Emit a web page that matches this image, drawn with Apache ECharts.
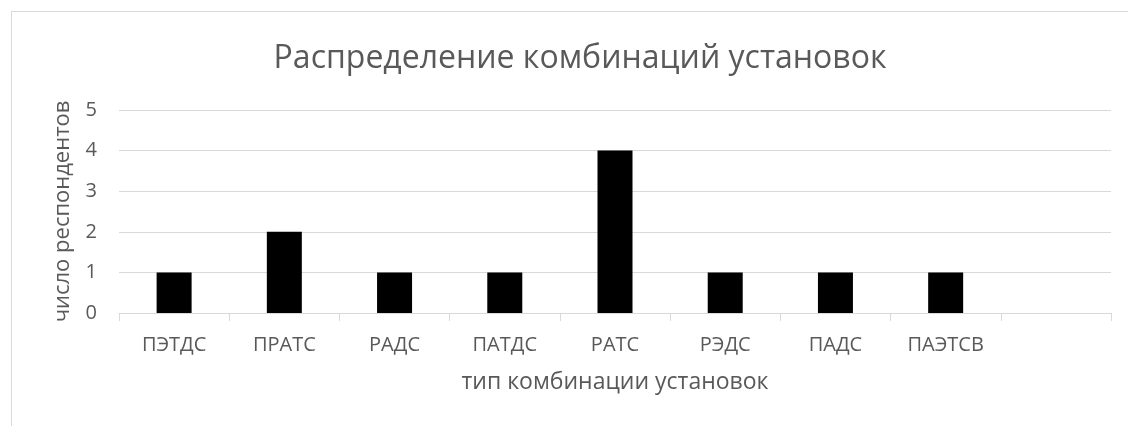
<!DOCTYPE html>
<html>
<head>
<meta charset="utf-8">
<script src="https://cdn.jsdelivr.net/npm/echarts@6/dist/echarts.min.js"></script>
<style>
html,body{margin:0;padding:0;background:#fff;}
#frame{position:absolute;left:11px;top:11px;width:2000px;height:2000px;border:1px solid #d9d9d9;box-sizing:border-box;}
#chart{position:absolute;left:0;top:0;width:1128px;height:426px;}
</style>
</head>
<body>
<div id="frame"></div>
<div id="chart"></div>
<script>
const titleText = "Распределение комбинаций установок";
const xAxisName = "тип комбинации установок";
const yAxisName = "число респондентов";
const categories = ["ПЭТДС", "ПРАТС", "РАДС", "ПАТДС", "РАТС", "РЭДС", "ПАДС", "ПАЭТСВ", ""];
const values = [1, 2, 1, 1, 4, 1, 1, 1, null];

const font = "'Open Sans', 'Noto Sans', sans-serif";
const textColor = "#595959";
const chart = echarts.init(document.getElementById('chart'));
chart.setOption({
  animation: false,
  backgroundColor: 'transparent',
  title: {
    text: titleText,
    left: 575,
    textAlign: 'center',
    top: 38,
    textStyle: {fontFamily: font, fontSize: 32, fontWeight: 'normal', color: textColor}
  },
  grid: {left: 119, right: 17, top: 110, bottom: 113},
  xAxis: {
    type: 'category',
    data: categories,
    name: xAxisName,
    nameLocation: 'middle',
    nameGap: 58,
    nameTextStyle: {fontFamily: font, fontSize: 23, color: textColor},
    axisLine: {lineStyle: {color: '#d9d9d9', width: 1}},
    axisTick: {show: true, length: 8, lineStyle: {color: '#d9d9d9'}},
    axisLabel: {fontFamily: font, fontSize: 20, color: textColor, margin: 22, interval: 0}
  },
  yAxis: {
    type: 'value',
    min: 0,
    max: 5,
    interval: 1,
    name: yAxisName,
    nameLocation: 'middle',
    nameGap: 45,
    nameTextStyle: {fontFamily: font, fontSize: 22, color: textColor},
    axisLine: {show: false},
    axisTick: {show: false},
    splitLine: {lineStyle: {color: '#d9d9d9', width: 1}},
    axisLabel: {fontFamily: font, fontSize: 20, color: textColor, margin: 22}
  },
  series: [{
    type: 'bar',
    data: values,
    barWidth: 35,
    itemStyle: {color: '#000000'}
  }]
});
</script>
</body>
</html>
